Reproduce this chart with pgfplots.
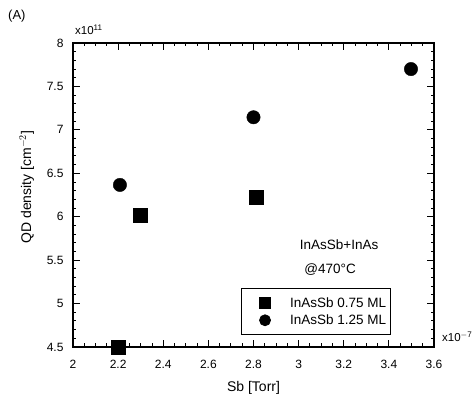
\documentclass[border=0pt]{standalone}
\usepackage{pgfplots}
\pgfplotsset{compat=1.18}
\usepackage{fontspec}
\setmainfont{Liberation Sans}
\begin{document}
\begin{tikzpicture}
\begin{axis}[
  scale only axis, width=361pt, height=304pt,
  xmin=2, xmax=3.6, ymin=4.5, ymax=8,
  xtick={2,2.2,2.4,2.6,2.8,3,3.2,3.4,3.6},
  ytick={4.5,5,5.5,6,6.5,7,7.5,8},
  minor x tick num=3, minor y tick num=4,
  tick align=inside,
  major tick length=7pt, minor tick length=3.5pt,
  axis line style={line width=1.3pt},
  tick style={black, line width=0.9pt},
  /pgf/number format/assume math mode=true,
  ticklabel style={font=\fontsize{12}{14}\selectfont},
  xticklabel style={yshift=-10pt},
  yticklabel style={xshift=-6pt},
  xlabel={Sb [Torr]},
  ylabel={QD density [cm$^{-2}$]},
  label style={font=\fontsize{14}{16}\selectfont},
  xlabel style={at={(axis description cs:0.5,-0.148)}, anchor=base},
  ylabel style={at={(axis description cs:-0.116,0.526)}, anchor=base},
  clip=false,
  legend style={at={(axis cs:2.743,5.18)}, anchor=north west, draw=black, line width=0.8pt,
    font=\fontsize{13.5}{15}\selectfont, row sep=2pt, inner xsep=4pt, inner ysep=7pt,
    nodes={inner xsep=0pt, inner ysep=2pt}},
  legend cell align=left,
  legend image code/.code={\path[draw=none] (0pt,0pt) -- (45pt,0pt); \path[fill=black, draw=none, mark size=5.5pt] plot[only marks] coordinates {(20pt,0pt)};},
]
\addplot[only marks, mark=square*, mark size=7pt, black] coordinates {(2.2,4.5) (2.3,6.02) (2.81,6.23)};
\addlegendentry{InAsSb 0.75 ML}
\addplot[only marks, mark=*, mark size=6.7pt, black] coordinates {(2.208,6.366) (2.8,7.145) (3.498,7.70)};
\addlegendentry{InAsSb 1.25 ML}
\node[anchor=west, font=\fontsize{13.5}{15}\selectfont] at (axis cs:2.99,5.675) {InAsSb+InAs};
\node[anchor=west, font=\fontsize{13.5}{15}\selectfont] at (axis cs:3.01,5.39) {@470°C};
\node[anchor=base west, font=\fontsize{11.5}{13}\selectfont, inner sep=0pt] at ([xshift=2pt,yshift=8pt]rel axis cs:0,1) {x10\textsuperscript{11}};
\node[anchor=base west, font=\fontsize{11.5}{13}\selectfont, inner sep=0pt] at ([xshift=8pt,yshift=5pt]rel axis cs:1,0) {x10\textsuperscript{$-$7}};
\node[anchor=base west, font=\fontsize{13}{15}\selectfont, inner sep=0pt] at ([xshift=-65pt,yshift=23pt]rel axis cs:0,1) {(A)};
\end{axis}
\path (current axis.south west) ++(-73pt,-54pt) rectangle ++(474pt,401pt);
\end{tikzpicture}
\end{document}
